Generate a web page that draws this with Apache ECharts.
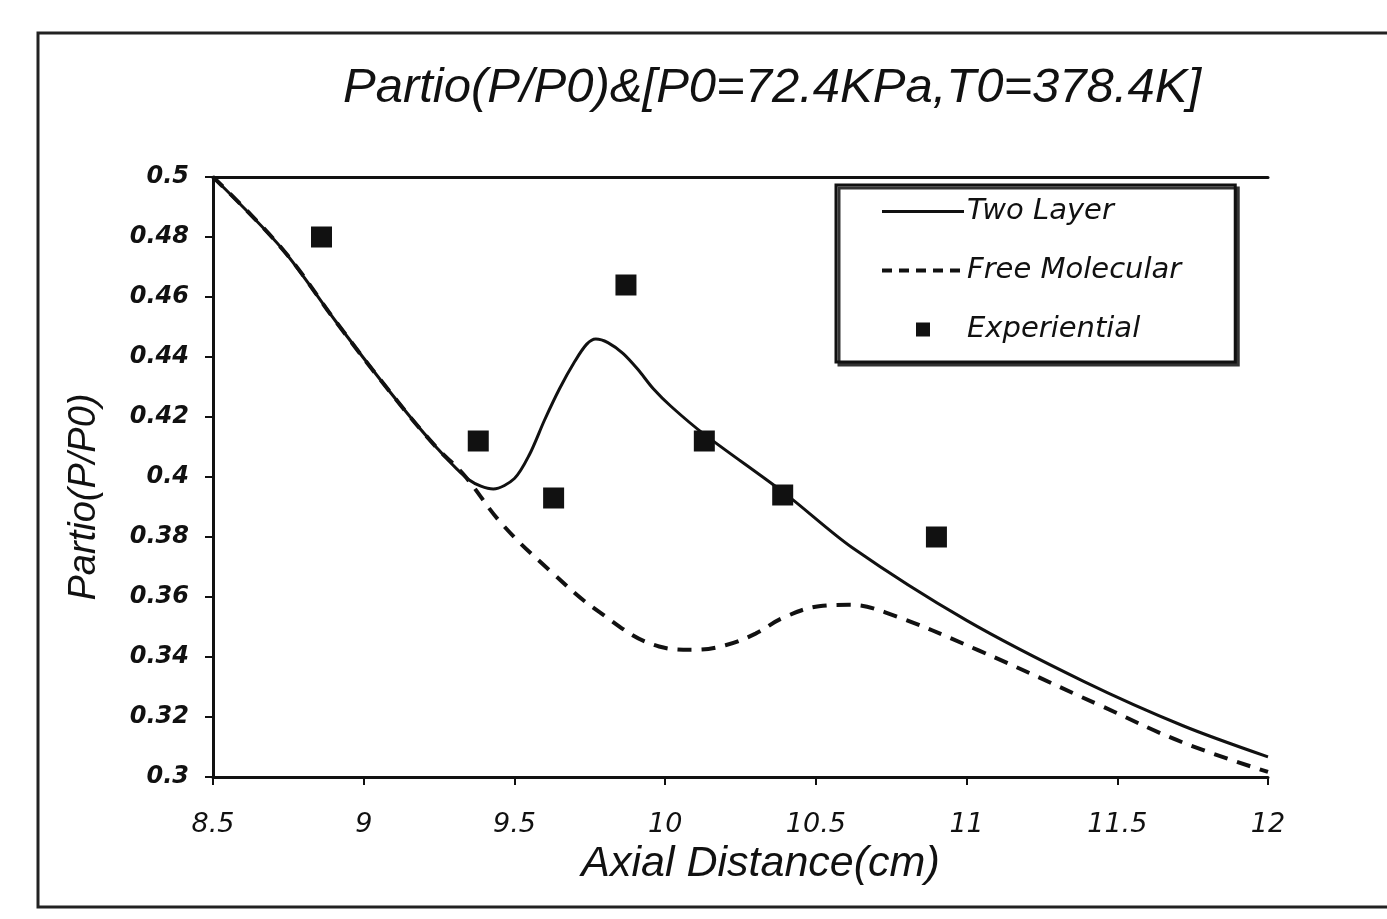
<!DOCTYPE html>
<html>
<head>
<meta charset="utf-8">
<script src="https://cdn.jsdelivr.net/npm/echarts@6/dist/echarts.min.js"></script>
<style>
  html, body { margin: 0; padding: 0; background: #fff; }
  #main { width: 1387px; height: 919px; }
</style>
</head>
<body>
<div id="main"></div>
<script>
// values
var twoLayerX = [8.5, 8.73, 8.91, 9.09, 9.24, 9.35, 9.43, 9.5, 9.55, 9.6, 9.65, 9.7, 9.74, 9.77, 9.81, 9.86, 9.91, 9.96, 10.02, 10.13, 10.4, 10.62, 11.0, 11.39, 11.72, 12.0];
var twoLayerY = [0.5, 0.476, 0.4515, 0.428, 0.41, 0.399, 0.396, 0.3995, 0.4075, 0.419, 0.4295, 0.4385, 0.4443, 0.446, 0.4448, 0.4412, 0.4358, 0.4295, 0.4235, 0.4142, 0.3943, 0.3765, 0.3522, 0.3318, 0.317, 0.3067];

var freeMolX = [8.5, 8.73, 8.91, 9.09, 9.24, 9.33, 9.46, 9.62, 9.78, 9.98, 10.09, 10.2, 10.3, 10.39, 10.51, 10.61, 10.73, 11.04, 11.44, 11.72, 12.0];
var freeMolY = [0.5, 0.476, 0.4515, 0.428, 0.41, 0.401, 0.3842, 0.3686, 0.3551, 0.3435, 0.3424, 0.3439, 0.3478, 0.353, 0.3569, 0.3574, 0.3549, 0.3422, 0.324, 0.3114, 0.3017];

var expX = [8.86, 9.38, 9.63, 9.87, 10.13, 10.39, 10.90];
var expY = [0.480, 0.412, 0.393, 0.464, 0.412, 0.394, 0.380];

function pairs(xs, ys) {
    return xs.map((x, i) => [x, ys[i]]);
}

var font = 'Liberation Sans, Arial, sans-serif';
var wide = 'DejaVu Sans, Verdana, sans-serif';
var ink = '#111';

var chart = echarts.init(document.getElementById('main'));

chart.setOption({
    backgroundColor: '#fff',
    animation: false,
    graphic: [{
	type: 'rect',
	shape: {x: 38, y: 33, width: 1380, height: 874},
	style: {fill: 'none', stroke: '#222', lineWidth: 3},
	z: -1
    }],
    title: {
	text: 'Partio(P/P0)&[P0=72.4KPa,T0=378.4K]',
	left: 767,
	top: 59,
	textAlign: 'center',
	textStyle: {fontFamily: font, fontStyle: 'italic', fontWeight: 'normal', fontSize: 49, color: ink}
    },
    legend: {
	orient: 'vertical',
	left: 836,
	top: 185,
	padding: [12, 54, 18, 44],
	itemWidth: 82,
	itemHeight: 14,
	itemGap: 30,
	backgroundColor: '#fff',
	borderColor: ink,
	borderWidth: 3,
	borderRadius: 0,
	shadowColor: '#333',
	shadowOffsetX: 3,
	shadowOffsetY: 3,
	shadowBlur: 0,
	textStyle: {fontFamily: wide, fontStyle: 'italic', fontSize: 29, color: ink, padding: [0, 0, 0, -2]},
	data: [
	    {name: 'Two Layer', itemStyle: {opacity: 0}, lineStyle: {width: 3}},
	    {name: 'Free Molecular', itemStyle: {opacity: 0}, lineStyle: {type: [10, 7], width: 4}},
	    {name: 'Experiential', icon: 'path://M0,0L10,0L10,10L0,10Z'}
	]
    },
    grid: {left: 213, top: 177, width: 1055, height: 600, containLabel: false},
    xAxis: [{
	type: 'value',
	min: 8.5,
	max: 12,
	interval: 0.5,
	name: 'Axial Distance(cm)',
	nameLocation: 'middle',
	nameGap: 62,
	nameTextStyle: {fontFamily: font, fontStyle: 'italic', fontSize: 43, color: ink, padding: [0, 0, 0, 40]},
	axisLine: {lineStyle: {color: ink, width: 3}},
	axisTick: {length: 8, lineStyle: {color: ink, width: 2}},
	axisLabel: {fontFamily: wide, fontStyle: 'italic', fontSize: 27, color: ink, margin: 34},
	splitLine: {show: false}
    }, {
	type: 'value',
	position: 'top',
	min: 8.5,
	max: 12,
	axisLine: {show: true, lineStyle: {color: ink, width: 3}},
	axisTick: {show: false},
	axisLabel: {show: false},
	splitLine: {show: false}
    }],
    yAxis: {
	type: 'value',
	min: 0.3,
	max: 0.5,
	interval: 0.02,
	name: 'Partio(P/P0)',
	nameLocation: 'middle',
	nameGap: 110,
	nameTextStyle: {fontFamily: font, fontStyle: 'italic', fontSize: 38, color: ink, padding: [0, 40, 0, 0]},
	axisLine: {show: true, lineStyle: {color: ink, width: 3}},
	axisTick: {show: true, length: 8, lineStyle: {color: ink, width: 2}},
	axisLabel: {
	    fontFamily: wide, fontStyle: 'italic', fontWeight: 'bold', fontSize: 24, color: ink, margin: 24,
	    formatter: (v) => String(+v.toFixed(2))
	},
	splitLine: {show: false}
    },
    series: [{
	name: 'Two Layer',
	type: 'line',
	data: pairs(twoLayerX, twoLayerY),
	smooth: 0.3,
	symbol: 'none',
	lineStyle: {color: ink, width: 3, type: 'solid'},
	itemStyle: {color: ink},
	z: 3
    }, {
	name: 'Free Molecular',
	type: 'line',
	data: pairs(freeMolX, freeMolY),
	smooth: 0.4,
	symbol: 'none',
	lineStyle: {color: ink, width: 4, type: [14, 10]},
	itemStyle: {color: ink},
	z: 2
    }, {
	name: 'Experiential',
	type: 'scatter',
	data: pairs(expX, expY),
	symbol: 'rect',
	symbolSize: 21,
	itemStyle: {color: ink, opacity: 1},
	z: 4
    }]
});
</script>
</body>
</html>
